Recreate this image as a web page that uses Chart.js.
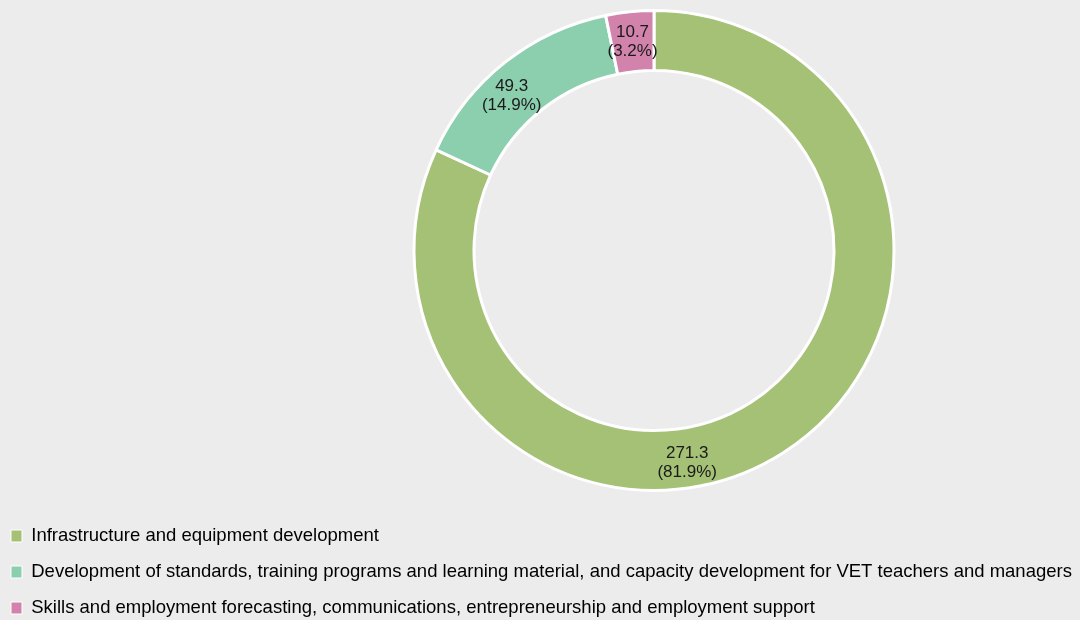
<!DOCTYPE html>
<html lang="en">
<head>
    <meta charset="UTF-8">
    <title>VET spending doughnut</title>
    <script src="https://cdn.jsdelivr.net/npm/chart.js"></script>
    <style>
        html, body {
            margin: 0;
            padding: 0;
            background: #ececec;
        }
        #wrap {
            width: 1080px;
            height: 620px;
        }
    </style>
</head>
<body>
    <div id="wrap"><canvas id="chart"></canvas></div>

    <script>
        const categories = [
            'Infrastructure and equipment development',
            'Development of standards, training programs and learning material, and capacity development for VET teachers and managers',
            'Skills and employment forecasting, communications, entrepreneurship and employment support'
        ];
        const amounts = [271.3, 49.3, 10.7];
        const shares = ['81.9%', '14.9%', '3.2%'];
        const colors = ['#a4c175', '#8ccfae', '#d283ab'];

        // where along each arc the label sits (0 = start, 1 = end)
        const labelAlong = [0.58, 0.43, 0.5];

        const legendFont = 18.5;
        const legendPad = 17.5;

        // put the ring and the legend where the original has them
        const placeAreas = {
            id: 'placeAreas',
            afterLayout(chart) {
                const a = chart.chartArea;
                a.left = 228;
                a.right = 1080;
                a.top = 9;
                a.bottom = 492;
                a.width = a.right - a.left;
                a.height = a.bottom - a.top;
                const lg = chart.legend;
                const h = lg.bottom - lg.top;
                lg.top = 536 - legendFont / 2 - legendPad;
                lg.bottom = lg.top + h;
                lg.left = 11 - legendPad;
                lg.right = 1080 + lg.left;
            }
        };

        const sliceLabels = {
            id: 'sliceLabels',
            afterDatasetsDraw(chart) {
                const ctx = chart.ctx;
                const meta = chart.getDatasetMeta(0);
                ctx.save();
                ctx.font = '17px "Liberation Sans", Arial, sans-serif';
                ctx.fillStyle = '#1a1a1a';
                ctx.textAlign = 'center';
                ctx.textBaseline = 'middle';
                meta.data.forEach((arc, i) => {
                    const p = arc.getProps(['x', 'y', 'startAngle', 'endAngle', 'innerRadius', 'outerRadius'], true);
                    const ang = p.startAngle + (p.endAngle - p.startAngle) * labelAlong[i];
                    const r = (p.innerRadius + p.outerRadius) / 2 + 2;
                    const cx = p.x + Math.cos(ang) * r;
                    const cy = p.y + Math.sin(ang) * r + 2.5;
                    ctx.fillText(amounts[i].toFixed(1), cx, cy - 9.5);
                    ctx.fillText('(' + shares[i] + ')', cx, cy + 9.5);
                });
                ctx.restore();
            }
        };

        new Chart(document.getElementById('chart'), {
            type: 'doughnut',
            data: {
                labels: categories,
                datasets: [{
                    data: amounts,
                    backgroundColor: colors,
                    borderColor: '#ffffff',
                    borderWidth: 3
                }]
            },
            options: {
                responsive: true,
                maintainAspectRatio: false,
                animation: false,
                cutout: '75%',
                plugins: {
                    legend: {
                        position: 'bottom',
                        align: 'start',
                        labels: {
                            boxWidth: 11,
                            boxHeight: 12,
                            padding: legendPad,
                            color: '#1a1a1a',
                            generateLabels(chart) {
                                return categories.map((c, i) => ({
                                    text: c,
                                    fillStyle: colors[i],
                                    strokeStyle: '#ffffff',
                                    lineWidth: 1,
                                    hidden: false,
                                    index: i
                                }));
                            },
                            font: { family: '"Liberation Sans", Arial, sans-serif', size: legendFont }
                        }
                    },
                    tooltip: { enabled: false }
                }
            },
            plugins: [placeAreas, sliceLabels]
        });
    </script>
</body>
</html>
